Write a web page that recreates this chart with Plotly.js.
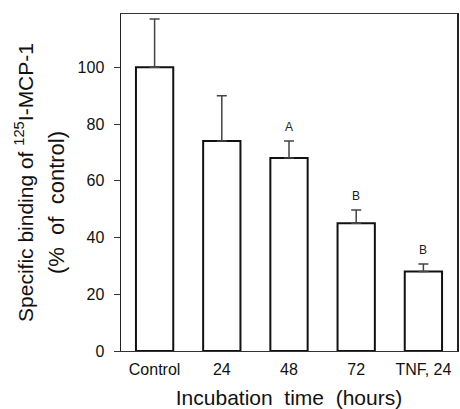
<!DOCTYPE html>
<html>
<head>
<meta charset="utf-8">
<script src="https://cdn.plot.ly/plotly-3.0.1.min.js"></script>
<style>html,body{margin:0;padding:0;background:#fff;}#chart{width:460px;height:409px;}</style>
</head>
<body>
<div id="chart"></div>
<script>
var categories = ["Control", "24", "48", "72", "TNF, 24"];
var values = [100, 74, 68, 45, 28];
var errors = [17, 16, 6, 4.7, 2.7];
var letters = ["", "", "A", "B", "B"];
var yTicks = [0, 20, 40, 60, 80, 100];
var yTitleLine1 = "Specific binding of <sup>125</sup>I-MCP-1";
var yTitleLine2 = "(%  of  control)";

var font = "Arial, Liberation Sans, sans-serif";
var annotations = [];
for (var i = 0; i < categories.length; i++) {
  if (letters[i]) {
    annotations.push({
      x: i, y: values[i] + errors[i], xref: "x", yref: "y",
      text: letters[i], showarrow: false, yanchor: "bottom", yshift: 5,
      font: {family: font, size: 12, color: "#222"}
    });
  }
}
annotations.push({
  xref: "paper", yref: "paper", x: -0.1935, y: 0.442,
  text: yTitleLine2, textangle: -90, showarrow: false,
  xanchor: "center", yanchor: "middle",
  font: {family: font, size: 22, color: "#111"}
});

var trace = {
  type: "bar", x: categories, y: values,
  width: 0.555,
  marker: {color: "#ffffff", line: {color: "#111", width: 2}},
  error_y: {type: "data", symmetric: false, array: errors, arrayminus: errors.map(function(){return 0;}),
            color: "#444", thickness: 1.5, width: 5},
  hoverinfo: "none"
};

var layout = {
  width: 460, height: 409,
  margin: {l: 121, r: 3, t: 14, b: 58},
  paper_bgcolor: "#fff", plot_bgcolor: "#fff",
  showlegend: false,
  font: {family: font, color: "#111"},
  xaxis: {
    type: "category", range: [-0.5, 4.5],
    showline: true, linecolor: "#333", linewidth: 1, mirror: true,
    ticks: "", showgrid: false, zeroline: false,
    ticklabelstandoff: 4,
    tickfont: {size: 16, color: "#111"},
    title: {text: "Incubation  time  (hours)", font: {size: 21, color: "#111"}, standoff: 13}
  },
  yaxis: {
    range: [0, 118.8], tickvals: yTicks, ticktext: yTicks.map(String),
    showline: true, linecolor: "#222", linewidth: 1.5, mirror: true,
    ticks: "outside", ticklen: 6, tickcolor: "#333", tickwidth: 1,
    ticklabelstandoff: 6,
    showgrid: false, zeroline: false,
    tickfont: {size: 16, color: "#111"},
    title: {text: yTitleLine1, font: {size: 21, color: "#111"}, standoff: 38}
  },
  annotations: annotations
};

Plotly.newPlot("chart", [trace], layout, {staticPlot: true, displayModeBar: false});
</script>
</body>
</html>
